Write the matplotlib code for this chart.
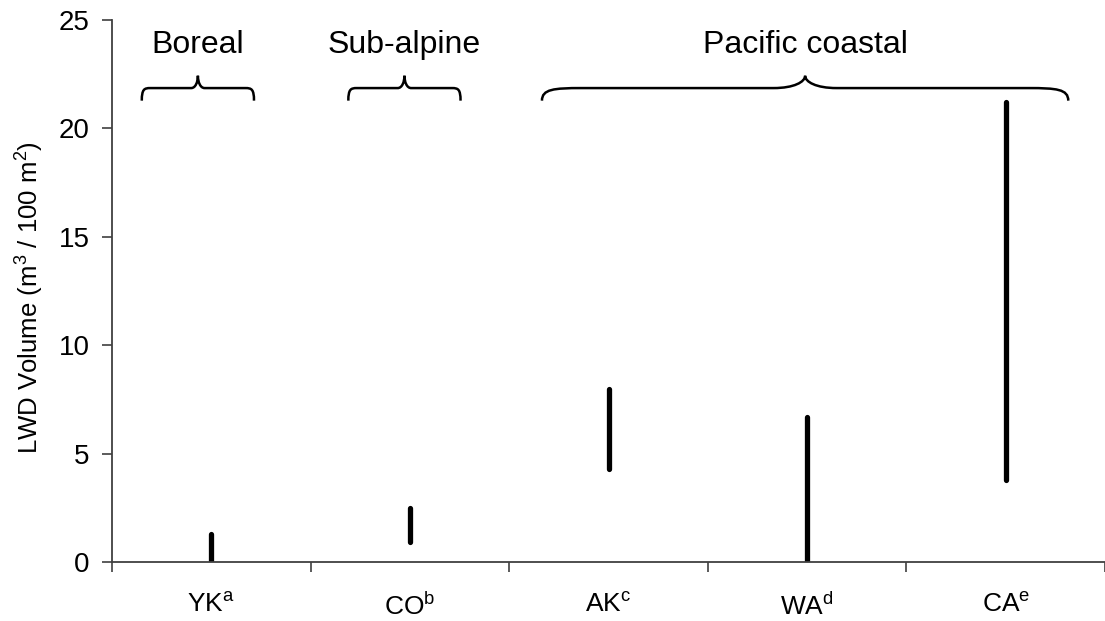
import matplotlib
matplotlib.use("Agg")
import matplotlib.pyplot as plt
import matplotlib.transforms as mtransforms
from matplotlib.path import Path
from matplotlib.patches import PathPatch

plt.rcParams['font.family'] = ['Liberation Sans', 'DejaVu Sans']
plt.rcParams['mathtext.fontset'] = 'custom'
plt.rcParams['mathtext.rm'] = 'Liberation Sans'
plt.rcParams['mathtext.it'] = 'Liberation Sans'
plt.rcParams['mathtext.default'] = 'regular'

# ---- data ----
sites = ["YK", "CO", "AK", "WA", "CA"]
site_sup = ["a", "b", "c", "d", "e"]
vol_low = [0.0, 0.9, 4.3, 0.0, 3.8]
vol_high = [1.3, 2.5, 8.0, 6.7, 21.2]
regions = ["Boreal", "Sub-alpine", "Pacific coastal"]
region_left = [-0.35, 0.69, 1.665]
region_right = [0.215, 1.255, 4.315]
yticks = [0, 5, 10, 15, 20, 25]

W, H = 1105, 621
fig = plt.figure(figsize=(W / 100, H / 100), dpi=100)
ax = fig.add_axes([112 / W, 1 - 562 / H, 1 - 112 / W, (562 - 20) / H])

x = list(range(len(sites)))
ax.vlines(x, vol_low, vol_high, colors='black', linewidth=3.8, capstyle='round')

ax.set_ylim(0, 25)
ax.set_xlim(-0.5, 4.5 - 3 / 199.2)
ax.set_yticks(yticks)
ax.set_yticklabels([str(v) for v in yticks], fontsize=20)
ax.set_xticks([i - 0.5 for i in range(len(sites) + 1)])
ax.set_xticklabels([])
ax.set_xticks(x, minor=True)
ax.set_xticklabels([rf"{s}$^{{\mathrm{{{p}}}}}$" for s, p in zip(sites, site_sup)],
                   minor=True, fontsize=19)
shift = mtransforms.ScaledTranslation(5 / 100, 0, fig.dpi_scale_trans)
for lbl in ax.get_xticklabels(minor=True):
    lbl.set_transform(lbl.get_transform() + shift)
ax.tick_params(axis='x', which='major', direction='out', length=7, width=1.2, colors='#404040')
ax.tick_params(axis='x', which='minor', length=0, pad=22, labelcolor='black')
ax.tick_params(axis='y', direction='out', length=7, width=1.2, colors='#404040', pad=9,
               labelcolor='black')
for s in ['top', 'right']:
    ax.spines[s].set_visible(False)
for s in ['left', 'bottom']:
    ax.spines[s].set_color('#404040')
    ax.spines[s].set_linewidth(1.3)

fig.text(30 / W, 1 - 298 / H, r"LWD Volume (m$^3$ / 100 m$^2$)", rotation=90,
         ha='center', va='center', fontsize=18.5)


def brace(ax, x0, x1, y_end, y_flat, y_tip, end_frac=0.15, tip_frac=0.12):
    xm = (x0 + x1) / 2
    half = (x1 - x0) / 2
    ew = half * end_frac
    tw = half * tip_frac
    verts = [
        (x0, y_end),
        (x0, y_flat - 0.05), (x0 + ew * 0.3, y_flat), (x0 + ew, y_flat),
        (xm - tw, y_flat),
        (xm - tw * 0.35, y_flat), (xm, y_flat + (y_tip - y_flat) * 0.5), (xm, y_tip),
        (xm, y_flat + (y_tip - y_flat) * 0.5), (xm + tw * 0.35, y_flat), (xm + tw, y_flat),
        (x1 - ew, y_flat),
        (x1 - ew * 0.3, y_flat), (x1, y_flat - 0.05), (x1, y_end),
    ]
    codes = [Path.MOVETO,
             Path.CURVE4, Path.CURVE4, Path.CURVE4,
             Path.LINETO,
             Path.CURVE4, Path.CURVE4, Path.CURVE4,
             Path.CURVE4, Path.CURVE4, Path.CURVE4,
             Path.LINETO,
             Path.CURVE4, Path.CURVE4, Path.CURVE4]
    ax.add_patch(PathPatch(Path(verts, codes), facecolor='none', edgecolor='black',
                           linewidth=1.8, clip_on=False))


for name, l, r in zip(regions, region_left, region_right):
    brace(ax, l, r, 21.28, 21.86, 22.43)
    ax.text((l + r) / 2, 23.85, name, ha='center', va='center', fontsize=23)

fig.savefig("out.png", dpi=100)
